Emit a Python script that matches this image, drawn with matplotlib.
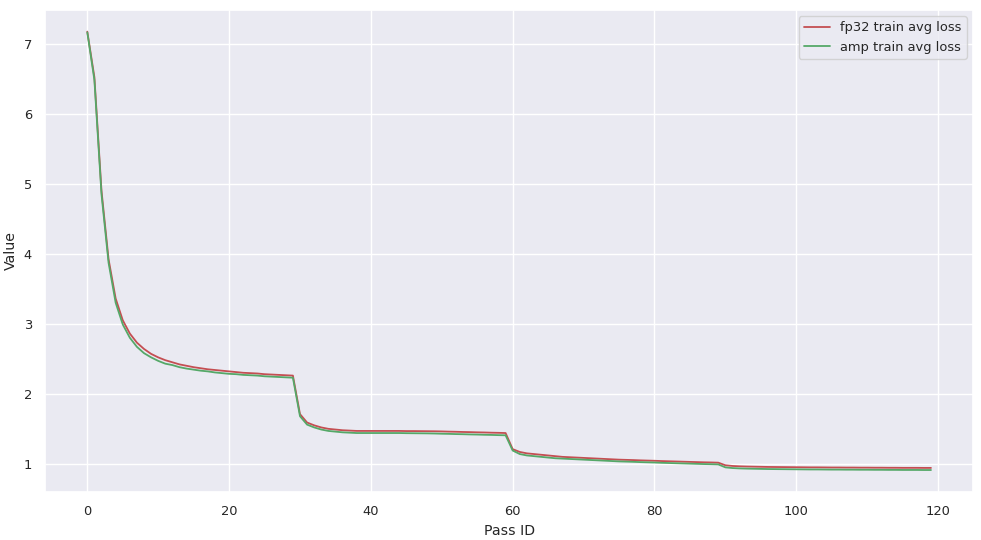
import matplotlib
matplotlib.use("Agg")
import matplotlib.pyplot as plt
import seaborn as sns

sns.set_theme(style="darkgrid", color_codes=True, font_scale=0.85)

pass_ids = list(range(120))

fp32_loss = [
    7.17, 6.52, 4.90, 3.92, 3.36, 3.05, 2.86, 2.73, 2.64, 2.57,
    2.52, 2.48, 2.45, 2.42, 2.40, 2.38, 2.365, 2.35, 2.34, 2.33,
    2.32, 2.31, 2.30, 2.295, 2.29, 2.28, 2.275, 2.27, 2.265, 2.26,
    1.71, 1.59, 1.55, 1.52, 1.50, 1.49, 1.48, 1.475, 1.47, 1.47,
    1.47, 1.47, 1.47, 1.47, 1.47, 1.468, 1.468, 1.467, 1.466, 1.465,
    1.463, 1.46, 1.458, 1.455, 1.453, 1.45, 1.448, 1.445, 1.443, 1.44,
    1.21, 1.17, 1.15, 1.14, 1.13, 1.12, 1.11, 1.10, 1.095, 1.09,
    1.085, 1.08, 1.075, 1.07, 1.065, 1.06, 1.057, 1.054, 1.05, 1.047,
    1.044, 1.04, 1.037, 1.034, 1.031, 1.028, 1.025, 1.022, 1.02, 1.017,
    0.98, 0.97, 0.965, 0.962, 0.96, 0.958, 0.956, 0.955, 0.954, 0.953,
    0.952, 0.951, 0.95, 0.95, 0.949, 0.948, 0.948, 0.947, 0.947, 0.946,
    0.946, 0.945, 0.945, 0.944, 0.944, 0.943, 0.943, 0.943, 0.942, 0.942,
]

amp_loss = [
    7.16, 6.48, 4.85, 3.87, 3.30, 2.99, 2.80, 2.67, 2.58, 2.52,
    2.47, 2.43, 2.41, 2.38, 2.36, 2.345, 2.33, 2.32, 2.305, 2.295,
    2.285, 2.28, 2.27, 2.265, 2.26, 2.25, 2.245, 2.24, 2.235, 2.23,
    1.68, 1.56, 1.52, 1.49, 1.47, 1.46, 1.45, 1.445, 1.44, 1.44,
    1.44, 1.44, 1.44, 1.44, 1.44, 1.438, 1.437, 1.436, 1.435, 1.433,
    1.43, 1.428, 1.425, 1.423, 1.42, 1.418, 1.415, 1.413, 1.41, 1.408,
    1.19, 1.14, 1.12, 1.11, 1.10, 1.09, 1.08, 1.075, 1.07, 1.065,
    1.06, 1.055, 1.05, 1.045, 1.04, 1.035, 1.032, 1.029, 1.025, 1.022,
    1.019, 1.015, 1.012, 1.009, 1.006, 1.003, 1.0, 0.997, 0.995, 0.992,
    0.95, 0.94, 0.935, 0.932, 0.93, 0.928, 0.926, 0.925, 0.924, 0.923,
    0.922, 0.921, 0.92, 0.92, 0.919, 0.918, 0.918, 0.917, 0.917, 0.916,
    0.916, 0.915, 0.915, 0.914, 0.914, 0.913, 0.913, 0.913, 0.912, 0.912,
]

fig, ax = plt.subplots(figsize=(9.81, 5.40), dpi=100)
ax.plot(pass_ids, fp32_loss, color="r", linewidth=1.3, label="fp32 train avg loss")
ax.plot(pass_ids, amp_loss, color="g", linewidth=1.3, label="amp train avg loss")
ax.set_xlabel("Pass ID")
ax.set_ylabel("Value")
ax.legend(loc="upper right")
fig.subplots_adjust(left=0.046, right=0.992, top=0.982, bottom=0.089)
fig.savefig("out.png", dpi=100)
